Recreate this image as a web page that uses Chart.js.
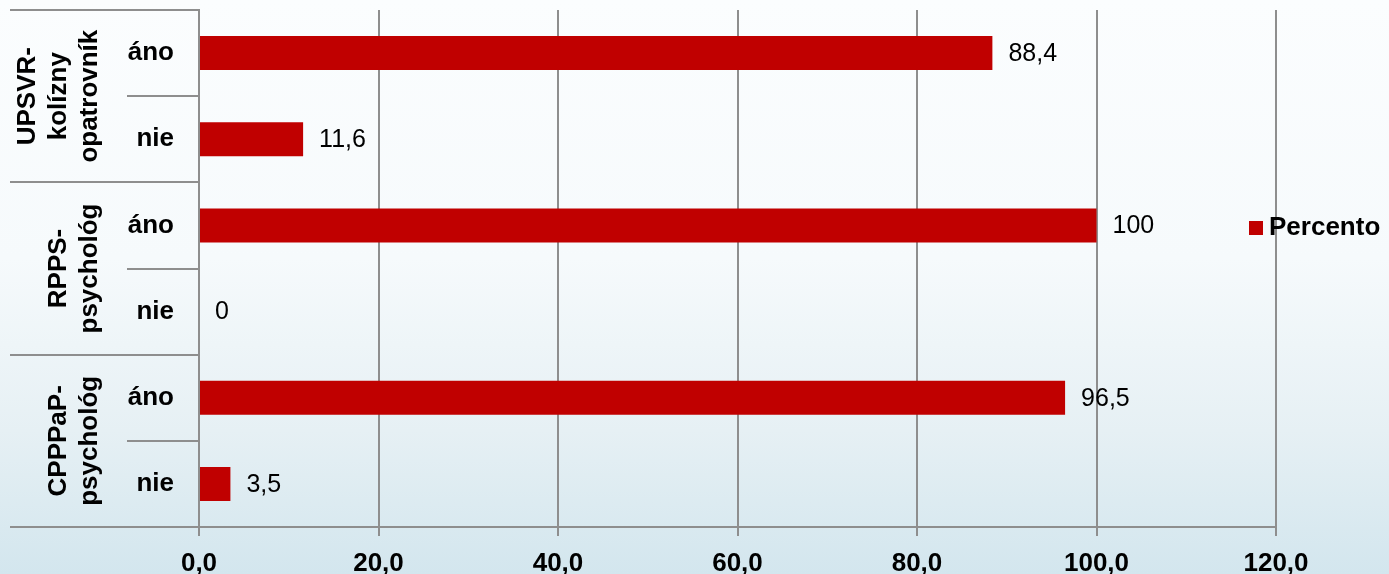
<!DOCTYPE html>
<html>
<head>
<meta charset="utf-8">
<script src="https://cdn.jsdelivr.net/npm/chart.js@4/dist/chart.umd.min.js"></script>
<style>
  html, body { margin: 0; padding: 0; }
  body {
    width: 1389px; height: 574px; overflow: hidden;
    background: linear-gradient(to bottom, #fbfdfe 0%, #f6fafc 45%, #e6f0f4 75%, #d3e6ee 100%);
  }
  #wrap { position: relative; width: 1389px; height: 574px; }
</style>
</head>
<body>
<div id="wrap"><canvas id="chart" width="1389" height="574"></canvas></div>
<script>
// data
const groups = [
    ['UPSVR-', 'kolízny', 'opatrovník'],
    ['RPPS-', 'psychológ'],
    ['CPPPaP-', 'psychológ']
];
const answers = ['áno', 'nie', 'áno', 'nie', 'áno', 'nie'];
const percent = [88.4, 11.6, 100, 0, 96.5, 3.5];
const seriesName = 'Percento';
const xTicks = [0, 20, 40, 60, 80, 100, 120];

const gridColor = '#8e8e8e';
const barColor = '#c00000';
const fontFamily = '"Liberation Sans", Arial, sans-serif';

function fmtComma(v, digits) {
    const s = digits === undefined ? String(v) : v.toFixed(digits);
    return s.replace('.', ',');
}

// group labels + separators in the left label column, value labels, legend
const extrasPlugin = {
    id: 'extras',
    afterDraw(chart) {
        const ctx = chart.ctx;
        const y = chart.scales.y;
        const area = chart.chartArea;
        const left = 10;
        const subLeft = 127;
        const step = y.getPixelForValue(1) - y.getPixelForValue(0);

        ctx.save();
        ctx.strokeStyle = gridColor;
        ctx.lineWidth = 2;
        // separators
        for (let i = 0; i <= answers.length; i++) {
            const py = Math.round(y.getPixelForValue(i) - step / 2);
            const x0 = (i % 2 === 0) ? left : subLeft;
            ctx.beginPath();
            ctx.moveTo(x0, py);
            ctx.lineTo(area.left, py);
            ctx.stroke();
        }
        // bottom line across the plot
        ctx.beginPath();
        ctx.moveTo(left, area.bottom);
        ctx.lineTo(area.right, area.bottom);
        ctx.stroke();

        // group labels, rotated
        ctx.fillStyle = '#000';
        ctx.font = 'bold 26px ' + fontFamily;
        ctx.textAlign = 'center';
        ctx.textBaseline = 'alphabetic';
        groups.forEach((lines, g) => {
            const cy = (y.getPixelForValue(g * 2) + y.getPixelForValue(g * 2 + 1)) / 2;
            const lastBase = 97;
            const lh = 31;
            lines.forEach((txt, k) => {
                const bx = lastBase - (lines.length - 1 - k) * lh;
                ctx.save();
                ctx.translate(bx, cy);
                ctx.rotate(-Math.PI / 2);
                ctx.fillText(txt, 0, 0);
                ctx.restore();
            });
        });

        // value labels
        const meta = chart.getDatasetMeta(0);
        ctx.font = '25px ' + fontFamily;
        ctx.textAlign = 'left';
        ctx.textBaseline = 'middle';
        meta.data.forEach((bar, i) => {
            ctx.fillText(fmtComma(percent[i]), bar.x + 16, bar.y + 1);
        });

        // legend
        const lx = 1249, ly = 221;
        ctx.fillStyle = barColor;
        ctx.fillRect(lx, ly, 14, 14);
        ctx.fillStyle = '#000';
        ctx.font = 'bold 26px ' + fontFamily;
        ctx.fillText(chart.data.datasets[0].label, lx + 20, ly + 7);
        ctx.restore();
    }
};

new Chart(document.getElementById('chart'), {
    type: 'bar',
    data: {
        labels: answers,
        datasets: [{
            label: seriesName,
            data: percent,
            backgroundColor: barColor,
            borderWidth: 0,
            barPercentage: 0.395,
            categoryPercentage: 1
        }]
    },
    options: {
        indexAxis: 'y',
        responsive: false,
        animation: false,
        devicePixelRatio: 1,
        layout: { padding: { left: 10, right: 113, top: 10, bottom: 0 } },
        plugins: {
            legend: { display: false },
            tooltip: { enabled: false }
        },
        scales: {
            x: {
                min: 0,
                max: 120,
                afterBuildTicks: (scale) => { scale.ticks = xTicks.map(v => ({ value: v })); },
                afterFit: (scale) => { scale.height = 47; scale.paddingLeft = 0; scale.paddingRight = 0; },
                grid: { color: gridColor, lineWidth: 2, tickLength: 9, drawTicks: true },
                border: { display: false },
                ticks: {
                    color: '#000',
                    padding: 12,
                    font: { family: fontFamily, size: 26, weight: 'bold' },
                    callback: v => fmtComma(v, 1)
                }
            },
            y: {
                afterFit: (scale) => { scale.width = 189; scale.paddingTop = 0; scale.paddingBottom = 0; },
                grid: { display: false },
                border: { display: true, color: gridColor, width: 2 },
                ticks: {
                    color: '#000',
                    padding: 17,
                    font: { family: fontFamily, size: 26, weight: 'bold' }
                }
            }
        }
    },
    plugins: [extrasPlugin]
});
</script>
</body>
</html>
